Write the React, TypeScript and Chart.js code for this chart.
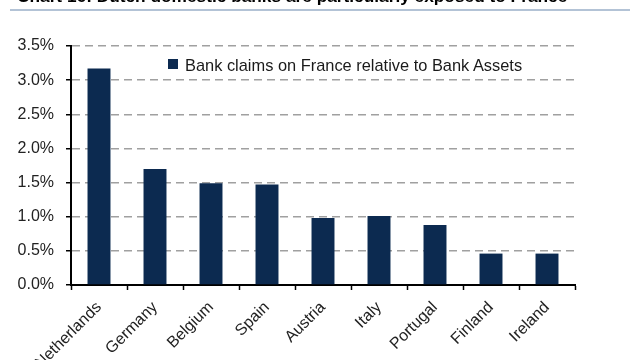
import React, { useEffect, useRef } from 'react';
import { Chart, registerables } from 'chart.js';

Chart.register(...registerables);

const titleText = 'Chart 16: Dutch domestic banks are particularly exposed to France';
const seriesLabel = 'Bank claims on France relative to Bank Assets';
const categories = ['Netherlands', 'Germany', 'Belgium', 'Spain', 'Austria', 'Italy', 'Portugal', 'Finland', 'Ireland'];
const claimsPct = [3.17, 1.7, 1.49, 1.47, 0.98, 1.01, 0.88, 0.46, 0.46];
const yTickValues = [0, 0.5, 1, 1.5, 2, 2.5, 3, 3.5];

const BAR_COLOR = '#0c2a50';
const FONT = "'Liberation Sans', Arial, sans-serif";

export default function App() {
  const canvasRef = useRef<HTMLCanvasElement | null>(null);

  useEffect(() => {
    if (!canvasRef.current) return;
    const chart = new Chart(canvasRef.current, {
      type: 'bar',
      data: {
        labels: categories,
        datasets: [
          {
            label: seriesLabel,
            data: claimsPct,
            backgroundColor: BAR_COLOR,
            borderWidth: 0,
            barPercentage: 0.41,
            categoryPercentage: 1,
          },
        ],
      },
      options: {
        responsive: false,
        animation: false,
        layout: { padding: { top: 46, right: 65, left: 0, bottom: 0 } },
        plugins: {
          legend: { display: false },
          tooltip: { enabled: false },
          title: { display: false },
        },
        scales: {
          x: {
            offset: true,
            grid: {
              offset: true,
              drawOnChartArea: false,
              drawTicks: true,
              tickLength: 5,
              tickColor: '#000',
              tickWidth: 1.5,
            },
            border: { color: '#000', width: 2 },
            ticks: {
              font: { family: FONT, size: 16 },
              color: '#222',
              minRotation: 45,
              maxRotation: 45,
              autoSkip: false,
              padding: 8,
            },
            afterFit: (s: any) => {
              s.height = 75;
            },
          },
          y: {
            min: 0,
            max: 3.5,
            afterBuildTicks: (s: any) => {
              s.ticks = yTickValues.map((v) => ({ value: v }));
            },
            ticks: {
              callback: (v: any) => Number(v).toFixed(1) + '%',
              font: { family: FONT, size: 16 },
              color: '#222',
              padding: 12,
            },
            grid: {
              color: '#a0a0a0',
              lineWidth: 1.5,
              tickColor: '#000',
              tickLength: 5,
              tickWidth: 1.5,
            },
            border: { color: '#000', width: 2, dash: [8, 5] },
            afterFit: (s: any) => {
              s.width = 71;
            },
          },
        },
      },
    });
    return () => chart.destroy();
  }, []);

  return (
    <div
      style={{
        position: 'fixed',
        left: 0,
        top: 0,
        width: 640,
        height: 360,
        overflow: 'hidden',
        background: '#fff',
        fontFamily: FONT,
      }}
    >
      <canvas ref={canvasRef} width={640} height={360} style={{ position: 'absolute', left: 0, top: 0 }} />
      <div
        style={{
          position: 'absolute',
          left: 17,
          top: -11.6,
          fontSize: 17.3,
          lineHeight: '17.3px',
          fontWeight: 'bold',
          color: '#000',
          whiteSpace: 'nowrap',
        }}
      >
        {titleText}
      </div>
      <div
        style={{
          position: 'absolute',
          left: 10,
          top: 9,
          width: 620,
          height: 2,
          background: '#b3c3d6',
        }}
      />
      <div
        style={{
          position: 'absolute',
          left: 168,
          top: 59,
          width: 10,
          height: 10,
          background: BAR_COLOR,
        }}
      />
      <div
        style={{
          position: 'absolute',
          left: 185,
          top: 56.5,
          fontSize: 16.4,
          lineHeight: '16.4px',
          color: '#1a1a1a',
          whiteSpace: 'nowrap',
        }}
      >
        {seriesLabel}
      </div>
    </div>
  );
}
